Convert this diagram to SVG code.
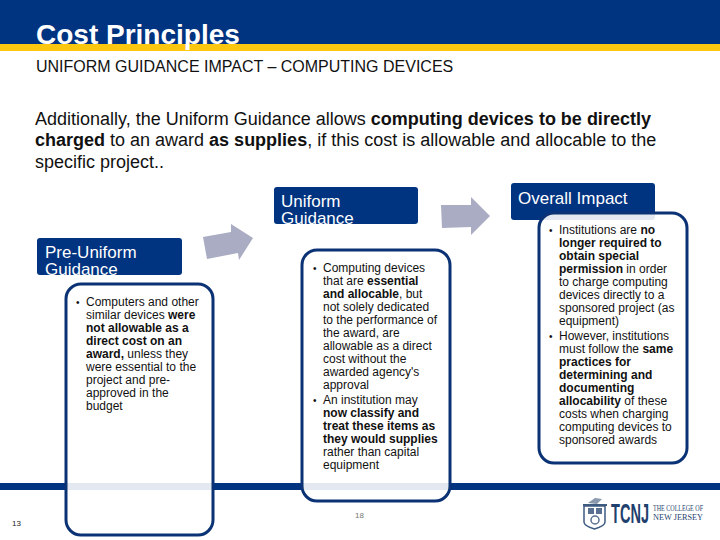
<svg xmlns="http://www.w3.org/2000/svg" width="720" height="540" viewBox="0 0 720 540">
<style>
text{font-family:"Liberation Sans",Arial,sans-serif;fill:#111}
.h{fill:#fff;font-size:17px}
.hb{fill:#003380}
.b{font-size:12px}
.d{font-size:10px}
.box{fill:#fff;fill-opacity:.89;stroke:#0a3274;stroke-width:3}
.big{font-size:18px}
.ar{fill:#a9acc2}
.logo{font-family:"Liberation Serif",serif}
tspan.s{font-weight:bold}
</style>
<defs>
<clipPath id="c1"><rect x="37" y="238" width="145" height="37" rx="3"/></clipPath>
<clipPath id="c2"><rect x="274" y="187" width="144" height="37" rx="3"/></clipPath>
</defs>
<g id="frame">
<rect width="720" height="44" fill="#003380"/>
<rect y="44" width="720" height="7" fill="#fdc60f"/>
<rect y="483" width="720" height="7" fill="#003380"/>
</g>
<g id="title">
<text x="36" y="44" font-size="28" font-weight="bold" style="fill:#fff">Cost Principles</text>
<text x="36" y="72" font-size="16" style="fill:#111">UNIFORM GUIDANCE IMPACT – COMPUTING DEVICES</text>
</g>
<g id="intro">
<text x="35" y="125" class="big">Additionally, the Uniform Guidance allows <tspan class="s">computing devices to be directly</tspan></text>
<text x="35" y="146" class="big"><tspan class="s">charged</tspan> to an award <tspan class="s">as supplies</tspan>, if this cost is allowable and allocable to the</text>
<text x="35" y="168" class="big">specific project..</text>
</g>
<g id="connectors">
<polygon class="ar" points="203,237 231,232 231,224 253,238 239,260 238,253 207,259"/>
<polygon class="ar" points="441,205 471,205 471,197 490,216 471,235 471,227 442,228"/>
</g>
<g id="pre-uniform">
<rect class="hb" x="37" y="238" width="145" height="37" rx="3"/>
<g clip-path="url(#c1)"><text class="h" x="45" y="258">Pre-Uniform</text><text class="h" x="45" y="275">Guidance</text></g>
<rect class="box" x="66" y="284" width="147" height="251" rx="15"/>
<text class="d" x="76" y="306">•</text>
<text class="b" x="86" y="306">Computers and other</text>
<text class="b" x="86" y="319">similar devices <tspan class="s">were</tspan></text>
<text class="b" x="86" y="332"><tspan class="s">not allowable as a</tspan></text>
<text class="b" x="86" y="345"><tspan class="s">direct cost on an</tspan></text>
<text class="b" x="86" y="358"><tspan class="s">award,</tspan> unless they</text>
<text class="b" x="86" y="371">were essential to the</text>
<text class="b" x="86" y="384">project and pre-</text>
<text class="b" x="86" y="397">approved in the</text>
<text class="b" x="86" y="410">budget</text>
</g>
<g id="uniform">
<rect class="hb" x="274" y="187" width="144" height="37" rx="3"/>
<g clip-path="url(#c2)"><text class="h" x="281" y="207">Uniform</text><text class="h" x="281" y="224">Guidance</text></g>
<rect class="box" x="302" y="250" width="148" height="251" rx="15"/>
<text class="d" x="313" y="272">•</text>
<text class="b" x="323" y="272">Computing devices</text>
<text class="b" x="323" y="285">that are <tspan class="s">essential</tspan></text>
<text class="b" x="323" y="298"><tspan class="s">and allocable</tspan>, but</text>
<text class="b" x="323" y="311">not solely dedicated</text>
<text class="b" x="323" y="324">to the performance of</text>
<text class="b" x="323" y="337">the award, are</text>
<text class="b" x="323" y="350">allowable as a direct</text>
<text class="b" x="323" y="363">cost without the</text>
<text class="b" x="323" y="376">awarded agency's</text>
<text class="b" x="323" y="389">approval</text>
<text class="d" x="313" y="404">•</text>
<text class="b" x="323" y="404">An institution may</text>
<text class="b" x="323" y="417"><tspan class="s">now classify and</tspan></text>
<text class="b" x="323" y="430"><tspan class="s">treat these items as</tspan></text>
<text class="b" x="323" y="443"><tspan class="s">they would supplies</tspan></text>
<text class="b" x="323" y="456">rather than capital</text>
<text class="b" x="323" y="469">equipment</text>
</g>
<g id="overall">
<rect class="hb" x="511" y="183" width="144" height="37" rx="3"/>
<text class="h" x="518" y="204">Overall Impact</text>
<rect class="box" x="539" y="213" width="148" height="250" rx="15"/>
<text class="d" x="549" y="234">•</text>
<text class="b" x="559" y="234">Institutions are <tspan class="s">no</tspan></text>
<text class="b" x="559" y="247"><tspan class="s">longer required to</tspan></text>
<text class="b" x="559" y="260"><tspan class="s">obtain special</tspan></text>
<text class="b" x="559" y="273"><tspan class="s">permission</tspan> in order</text>
<text class="b" x="559" y="286">to charge computing</text>
<text class="b" x="559" y="299">devices directly to a</text>
<text class="b" x="559" y="312">sponsored project (as</text>
<text class="b" x="559" y="325">equipment)</text>
<text class="d" x="549" y="340">•</text>
<text class="b" x="559" y="340">However, institutions</text>
<text class="b" x="559" y="353">must follow the <tspan class="s">same</tspan></text>
<text class="b" x="559" y="366"><tspan class="s">practices for</tspan></text>
<text class="b" x="559" y="379"><tspan class="s">determining and</tspan></text>
<text class="b" x="559" y="392"><tspan class="s">documenting</tspan></text>
<text class="b" x="559" y="405"><tspan class="s">allocability</tspan> of these</text>
<text class="b" x="559" y="418">costs when charging</text>
<text class="b" x="559" y="431">computing devices to</text>
<text class="b" x="559" y="444">sponsored awards</text>
</g>
<g id="footer">
<text x="12" y="526" font-size="8" style="fill:#222">13</text>
<text x="355" y="518" font-size="8" style="fill:#777">18</text>
<text x="611" y="523" font-size="27" font-weight="bold" textLength="38" lengthAdjust="spacingAndGlyphs" style="fill:#1f3f6e">TCNJ</text>
<text class="logo" x="653" y="511" font-size="7.500" textLength="50" lengthAdjust="spacingAndGlyphs" style="fill:#1f3f6e">THE COLLEGE OF</text>
<text class="logo" x="653" y="520" font-size="7.500" textLength="50" lengthAdjust="spacingAndGlyphs" style="fill:#1f3f6e">NEW JERSEY</text>
<path d="M584 506h21v16q0 4-10.500 7q-10.500-3-10.500-7z" fill="#fff" stroke="#3d5a80" stroke-width="1.500"/>
<rect x="583" y="504" width="24" height="2" fill="#3d5a80"/>
<rect x="588" y="508" width="6" height="6" fill="#5a7090"/>
<rect x="596" y="508" width="6" height="6" fill="#5a7090"/>
<circle cx="595" cy="520" r="4" fill="none" stroke="#5a7090" stroke-width="1.500"/>
<path d="M588 503l7-5 7 1-5 5z" fill="#8a99ad"/>
</g>
</svg>
